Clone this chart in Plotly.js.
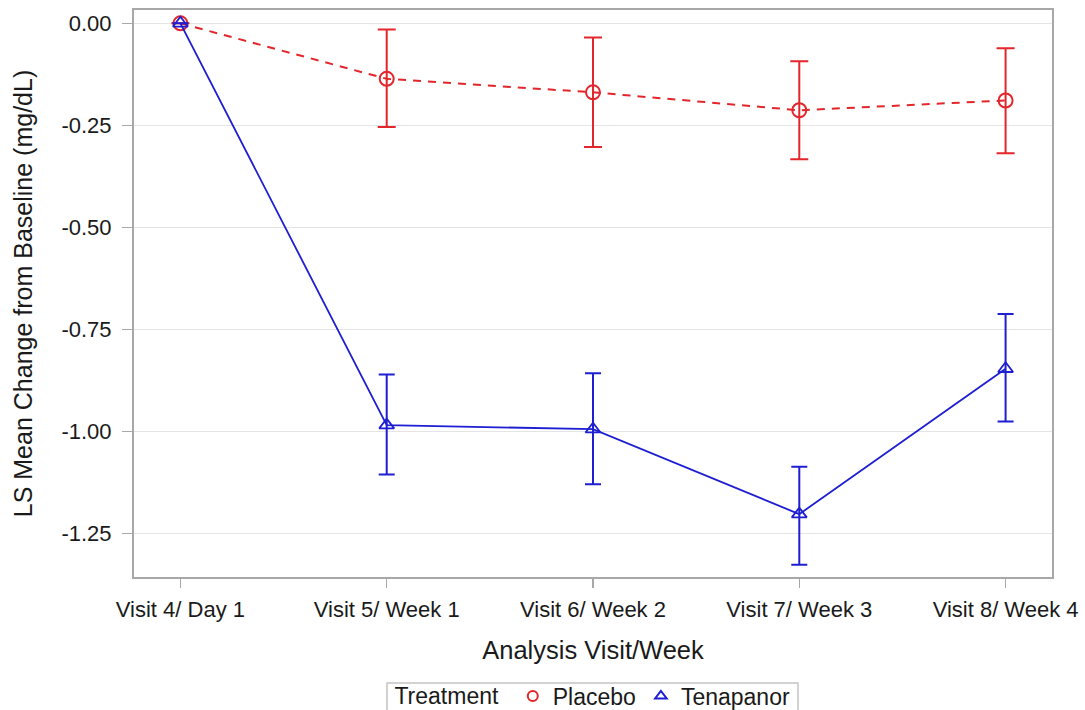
<!DOCTYPE html>
<html>
<head>
<meta charset="utf-8">
<script src="https://cdn.plot.ly/plotly-3.0.1.min.js"></script>
<style>html,body{margin:0;padding:0;background:#fff;}#chart{width:1085px;height:710px;}</style>
</head>
<body>
<div id="chart"></div>
<script>
const visits = ['Visit 4/ Day 1','Visit 5/ Week 1','Visit 6/ Week 2','Visit 7/ Week 3','Visit 8/ Week 4'];

const placeboMean  = [0, -0.136, -0.169, -0.213, -0.189];
const placeboUpper = [0, -0.015, -0.035, -0.093, -0.061];
const placeboLower = [0, -0.254, -0.303, -0.333, -0.318];

const tenaMean  = [0, -0.984, -0.994, -1.202, -0.846];
const tenaUpper = [0, -0.860, -0.857, -1.086, -0.712];
const tenaLower = [0, -1.105, -1.129, -1.326, -0.975];

const yTickVals = [0, -0.25, -0.5, -0.75, -1.0, -1.25];
const yTickText = ['0.00','-0.25','-0.50','-0.75','-1.00','-1.25'];

const RED = '#e3262b';
const BLUE = '#1e1ed2';
const FONT = 'Liberation Sans, Arial, sans-serif';

function plus(mean, upper){ return upper.map((u,i)=>u-mean[i]); }
function minus(mean, lower){ return lower.map((l,i)=>mean[i]-l); }

const traces = [
  {
    x: visits, y: placeboMean, type: 'scatter', mode: 'lines+markers', showlegend: false,
    line: {color: RED, width: 2, dash: '8px,7px'},
    marker: {symbol: 'circle-open', size: 14, color: RED, line: {width: 2, color: RED}},
    error_y: {type: 'data', symmetric: false, array: plus(placeboMean, placeboUpper),
              arrayminus: minus(placeboMean, placeboLower), color: RED, thickness: 2, width: 9}
  },
  {
    x: visits, y: tenaMean, type: 'scatter', mode: 'lines+markers', showlegend: false,
    line: {color: BLUE, width: 1.8},
    marker: {symbol: 'triangle-up-open', size: 13, color: BLUE, line: {width: 1.8, color: BLUE}},
    error_y: {type: 'data', symmetric: false, array: plus(tenaMean, tenaUpper),
              arrayminus: minus(tenaMean, tenaLower), color: BLUE, thickness: 2, width: 8}
  },
  {
    x: [null], y: [null], type: 'scatter', mode: 'markers', name: 'Placebo',
    marker: {symbol: 'circle-open', size: 10, color: RED, line: {width: 2, color: RED}}
  },
  {
    x: [null], y: [null], type: 'scatter', mode: 'markers', name: 'Tenapanor',
    marker: {symbol: 'triangle-up-open', size: 10, color: BLUE, line: {width: 2, color: BLUE}}
  }
];

const layout = {
  width: 1085, height: 710,
  margin: {l: 134, r: 33, t: 10, b: 133, autoexpand: false},
  paper_bgcolor: '#ffffff', plot_bgcolor: '#ffffff',
  font: {family: FONT, color: '#1a1a1a', size: 22},
  xaxis: {
    type: 'category', range: [-0.225, 4.225], automargin: false,
    showgrid: false, zeroline: false,
    showline: true, mirror: true, linecolor: '#a8a8a8', linewidth: 2,
    ticks: 'outside', ticklen: 9, tickwidth: 1.5, tickcolor: '#a8a8a8',
    tickfont: {size: 22, family: FONT, color: '#1a1a1a'},
    ticklabelstandoff: 3,
    title: {text: 'Analysis Visit/Week', font: {size: 25.5, family: FONT, color: '#1a1a1a'}, standoff: 20}
  },
  yaxis: {
    range: [-1.356, 0.0326], automargin: false,
    tickvals: yTickVals, ticktext: yTickText,
    showgrid: true, gridcolor: '#e4e4e4', gridwidth: 1.5, zeroline: false,
    showline: true, mirror: true, linecolor: '#a8a8a8', linewidth: 2,
    ticks: 'outside', ticklen: 10, tickwidth: 1.5, tickcolor: '#a8a8a8',
    tickfont: {size: 22, family: FONT, color: '#1a1a1a'},
    ticklabelstandoff: 6,
    title: {text: 'LS Mean Change from Baseline (mg/dL)', font: {size: 25, family: FONT, color: '#1a1a1a'}, standoff: 22}
  },
  shapes: [
    {type: 'rect', xref: 'paper', yref: 'paper', x0: 0.2756, x1: 0.7233, y0: -0.187, y1: -0.25,
     line: {color: '#c4c4c4', width: 1.5}, fillcolor: 'rgba(0,0,0,0)', layer: 'above'}
  ],
  showlegend: true,
  legend: {
    orientation: 'h', x: 0.501, xanchor: 'center', y: -0.172, yanchor: 'top',
    title: {text: 'Treatment ', font: {size: 23, family: FONT, color: '#1a1a1a'}, side: 'left'},
    font: {size: 23, family: FONT, color: '#1a1a1a'},
    borderwidth: 0, bgcolor: 'rgba(0,0,0,0)',
    itemwidth: 30, tracegroupgap: 0
  }
};

Plotly.newPlot('chart', traces, layout, {displayModeBar: false, staticPlot: true});
</script>
</body>
</html>
